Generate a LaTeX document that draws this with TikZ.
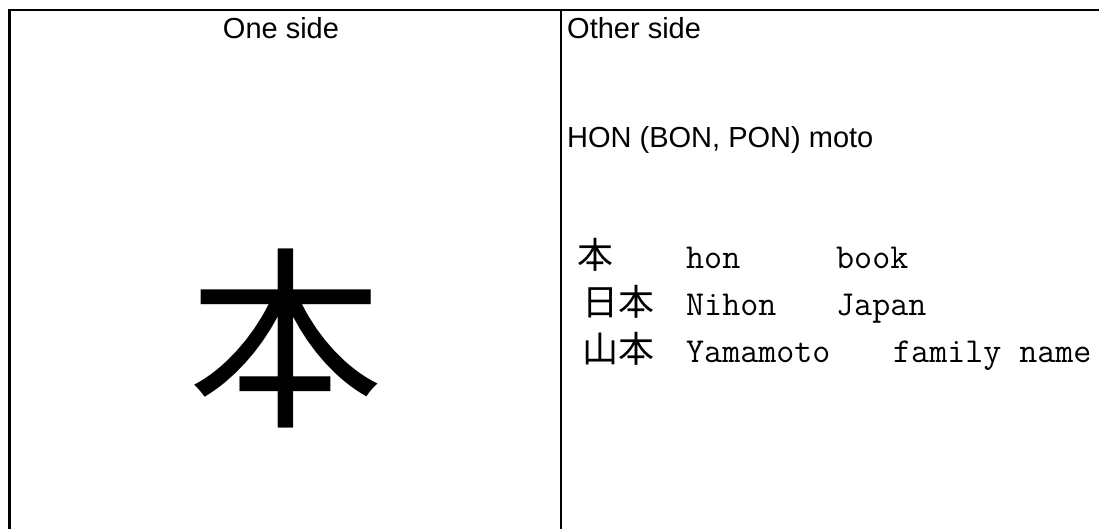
\documentclass[tikz,border=0pt]{standalone}
\usepackage{fontspec}
\setmainfont{Liberation Sans}
\newfontfamily\jpfont{Noto Sans CJK JP}

\begin{document}
\begin{tikzpicture}[x=1pt, y=-1pt,
    head/.style={anchor=base west, inner sep=0pt, font=\fontsize{29}{34}\selectfont},
    kanji/.style={anchor=base west, inner sep=0pt, font=\jpfont\fontsize{36}{44}\selectfont},
    roman/.style={anchor=base west, inner sep=0pt, font=\ttfamily\fontsize{35}{44}\selectfont}]
    \useasboundingbox (0,0) rectangle (1099,529);
    \coordinate (TL) at (9.5,10);
    \coordinate (TR) at (1099,10);
    \coordinate (BL) at (9.5,529);
    \coordinate (MT) at (561,10);
    \coordinate (MB) at (561,529);
    \draw[line width=2.2pt] (TR) -- (TL) -- (BL);
    \draw[line width=1.8pt] (MT) -- (MB);
    % headers
    \node[head, anchor=base] (one) at (281,39) {One side};
    \node[head] (other) at (567,39) {Other side};
    \node[head] (reading) at (567,148) {HON (BON, PON) moto};
    % front of the card
    \node[inner sep=0pt, font=\jpfont\fontsize{195}{200}\selectfont] (big) at (286,338) {本};
    % words
    \node[kanji] (k1) at (577,268) {本};
    \node[roman] (r1) at (686,268) {hon};
    \node[roman] (m1) at (836,268) {book};
    \node[kanji] (k2) at (582,315) {日本};
    \node[roman] (r2) at (686,315) {Nihon};
    \node[roman] (m2) at (836,315) {Japan};
    \node[kanji] (k3) at (582,362) {山本};
    \node[roman] (r3) at (686,362) {Yamamoto};
    \node[roman] (m3) at (893,362) {family name};
\end{tikzpicture}
\end{document}
